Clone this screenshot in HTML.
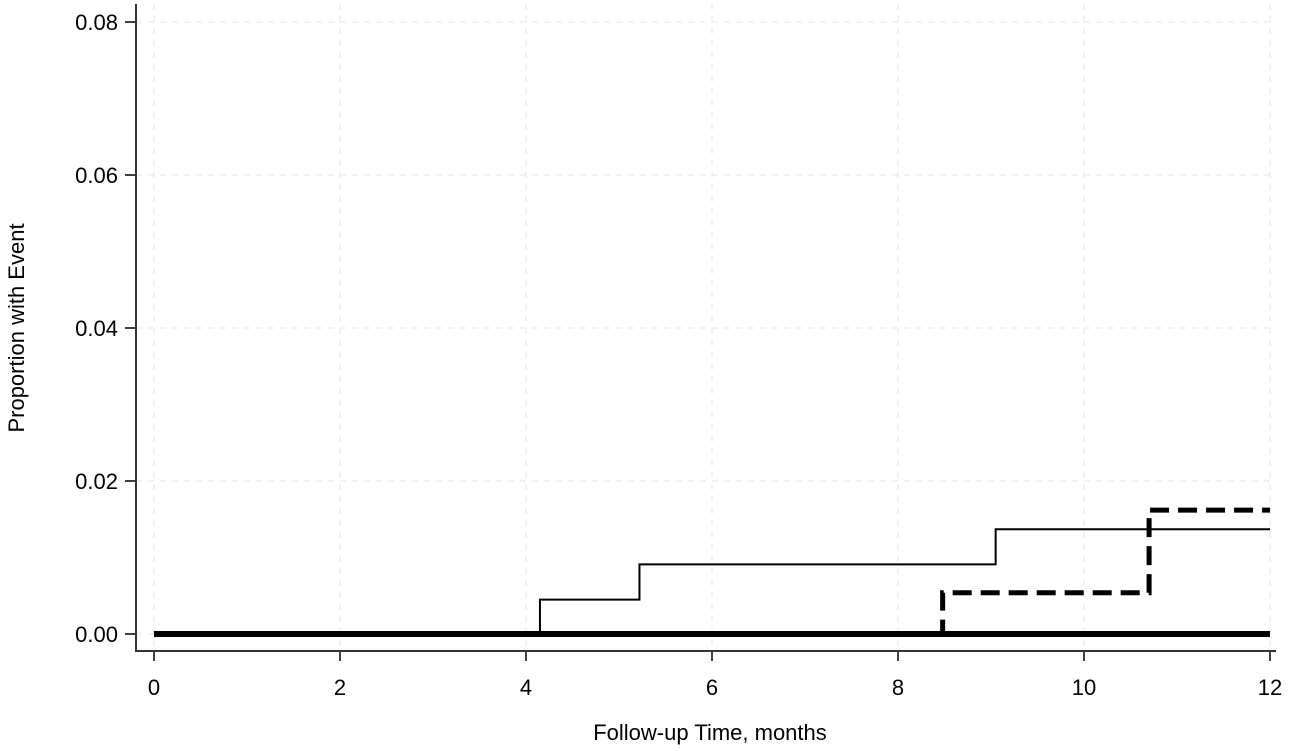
<!DOCTYPE html>
<html><head><meta charset="utf-8"><style>
body{margin:0;background:#fff;}
svg{display:block;font-family:"Liberation Sans",Arial,sans-serif;}
</style></head><body>
<svg id="chart" width="1291" height="751">
<g id="grid"></g>
<g id="axes"></g>
<g id="series"></g>
<text x="710" y="740" text-anchor="middle" font-size="22">Follow-up Time, months</text>
<text transform="translate(24,328) rotate(-90)" text-anchor="middle" font-size="22">Proportion with Event</text>
</svg>
<script>
const xTicks=[0,2,4,6,8,10,12];
const yTicks=[0,0.02,0.04,0.06,0.08];
const yTickLabels=["0.00","0.02","0.04","0.06","0.08"];
const thinTimes=[0,4.15,5.22,9.05,12];
const thinValues=[0,0.0045,0.0091,0.0137,0.0137];
const dashTimes=[0,8.48,10.7,12];
const dashValues=[0,0.0054,0.0162,0.0162];
const thickTimes=[0,12];
const thickValues=[0,0];
const NS="http://www.w3.org/2000/svg";
const sx=v=>154+v*(1270-154)/12;
const sy=v=>634-v*(634-22)/0.08;
function mk(tag,attrs,parent){const e=document.createElementNS(NS,tag);for(const k in attrs)e.setAttribute(k,attrs[k]);parent.appendChild(e);return e;}
const grid=document.getElementById('grid'),axes=document.getElementById('axes'),series=document.getElementById('series');
xTicks.forEach((t,i)=>{
  const g=mk('line',{x1:sx(t),x2:sx(t),y1:4,y2:651,stroke:'#e4e4e4','stroke-width':1,'stroke-dasharray':'6 6'},grid);
  
  
  const tk=mk('line',{x1:sx(t),x2:sx(t),y1:651,y2:661,stroke:'#000','stroke-width':1.5},axes);
  
  
  const lb=mk('text',{x:sx(t),y:695,'text-anchor':'middle','font-size':22},axes);
  lb.textContent=String(t);
  
  
});
yTicks.forEach((t,i)=>{
  const g=mk('line',{x1:136,x2:1275,y1:sy(t),y2:sy(t),stroke:'#e4e4e4','stroke-width':1,'stroke-dasharray':'6 6'},grid);
  
  
  const tk=mk('line',{x1:125,x2:136,y1:sy(t),y2:sy(t),stroke:'#000','stroke-width':1.5},axes);
  
  
  const lb=mk('text',{x:118,y:sy(t)+8,'text-anchor':'end','font-size':22},axes);
  lb.textContent=yTickLabels[i];
  
  
});
const ya=mk('line',{x1:136,x2:136,y1:4,y2:652,stroke:'#333','stroke-width':2},axes);


const xa=mk('line',{x1:135,x2:1276,y1:651,y2:651,stroke:'#333','stroke-width':2},axes);


function stepPath(ts,vs){let d='M'+sx(ts[0])+','+sy(vs[0]);for(let i=1;i<ts.length;i++){d+=' H'+sx(ts[i])+' V'+sy(vs[i]);}return d;}
const thick=mk('path',{d:stepPath(thickTimes,thickValues),fill:'none',stroke:'#000','stroke-width':6},series);


const dash=mk('path',{d:stepPath(dashTimes,dashValues),fill:'none',stroke:'#000','stroke-width':5,'stroke-dasharray':'19 9'},series);


const thin=mk('path',{d:stepPath(thinTimes,thinValues),fill:'none',stroke:'#000','stroke-width':2},series);


</script>
</body></html>
